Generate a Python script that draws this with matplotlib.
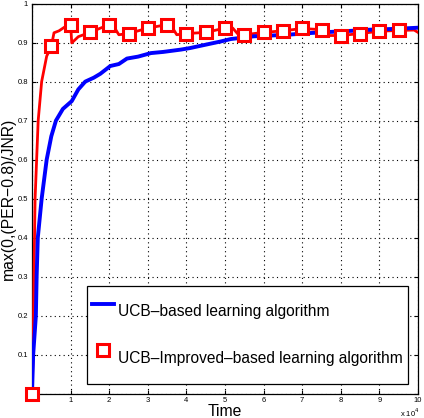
import matplotlib
matplotlib.use("Agg")
import matplotlib.pyplot as plt
from matplotlib.lines import Line2D

plt.rcParams['font.family'] = ['Liberation Sans', 'DejaVu Sans']

# Data (time in units of 10^4)
ucb_t = [0, 0.03, 0.1, 0.12, 0.15, 0.25, 0.38, 0.5, 0.62, 0.8, 1.03, 1.2, 1.38, 1.6, 1.77,
         2.03, 2.25, 2.46, 2.75, 3.08, 3.4, 3.86, 4.1, 4.38, 4.9, 5.15, 5.75, 6.2, 6.63,
         7.0, 7.47, 8.1, 8.77, 9.4, 10.0]
ucb_v = [0, 0.1, 0.2, 0.3, 0.4, 0.5, 0.6, 0.66, 0.7, 0.73, 0.75, 0.78, 0.8, 0.81, 0.82,
         0.84, 0.845, 0.859, 0.864, 0.873, 0.876, 0.882, 0.886, 0.892, 0.903, 0.909, 0.916,
         0.918, 0.92, 0.923, 0.926, 0.929, 0.933, 0.935, 0.938]

imp_t = [0, 0.03, 0.05, 0.08, 0.16, 0.25, 0.38, 0.5, 0.57, 0.7, 0.85, 1.0, 1.03, 1.2, 1.5,
         2.0, 2.1, 2.25, 2.5, 3.0, 3.5, 3.6, 3.75, 4.0, 4.5, 5.0, 5.2, 5.35, 5.5, 6.0, 6.5,
         7.0, 7.5, 7.7, 8.0, 8.5, 9.0, 9.5, 9.9, 10.0]
imp_v = [0, 0.1, 0.3, 0.5, 0.7, 0.8, 0.865, 0.89, 0.925, 0.93, 0.94, 0.946, 0.899, 0.915, 0.926,
         0.946, 0.944, 0.92, 0.923, 0.937, 0.946, 0.944, 0.92, 0.923, 0.926, 0.937, 0.937, 0.92,
         0.92, 0.926, 0.93, 0.936, 0.933, 0.918, 0.918, 0.923, 0.929, 0.931, 0.932, 0.926]

mark_t = [0, 0.5, 1.0, 1.5, 2.0, 2.5, 3.0, 3.5, 4.0, 4.5, 5.0, 5.5, 6.0, 6.5, 7.0, 7.5,
          8.0, 8.5, 9.0, 9.5]
mark_v = [0, 0.89, 0.946, 0.926, 0.946, 0.923, 0.937, 0.946, 0.923, 0.926, 0.937, 0.92,
          0.926, 0.93, 0.936, 0.933, 0.918, 0.923, 0.929, 0.931]

x_ticks = list(range(0, 11))
y_ticks = [0, 0.1, 0.2, 0.3, 0.4, 0.5, 0.6, 0.7, 0.8, 0.9, 1]
y_ticklabels = ['', '0.1', '0.2', '0.3', '0.4', '0.5', '0.6', '0.7', '0.8', '0.9', '1']

label_ucb = 'UCB\u2013based learning algorithm'
label_imp = 'UCB\u2013Improved\u2013based learning algorithm'

fig = plt.figure(figsize=(4.24, 4.18), dpi=100)
ax = fig.add_axes([32/424, (418-394)/418, (418-32)/424, (394-3.5)/418])

blue = '#0000ff'
red = '#ff0000'

ax.plot(imp_t, imp_v, color=red, lw=2.0, zorder=3)
ax.plot(ucb_t, ucb_v, color=blue, lw=2.8, zorder=4)
ax.plot(mark_t, mark_v, linestyle='none', marker='s', markersize=8.2,
        markeredgewidth=2.2, markeredgecolor=red, markerfacecolor='white',
        zorder=5, clip_on=False)

ax.set_xlim(0, 10)
ax.set_ylim(0, 1)
ax.set_xticks(x_ticks)
ax.set_xticklabels([str(v) for v in x_ticks])
ax.set_yticks(y_ticks)
ax.set_yticklabels(y_ticklabels)
ax.tick_params(direction='in', length=3, width=0.8, labelsize=5.5, top=True, right=True,
               pad=3)
ax.tick_params(axis='x', pad=2.2)
ax.grid(True, color='black', linestyle=(0, (1, 3)), linewidth=0.8)
for s in ax.spines.values():
    s.set_linewidth(0.9)

ax.set_xlabel('Time', fontsize=11.3)
ax.xaxis.set_label_coords(0.5, -(416-394)/390.5)
ax.xaxis.label.set_va('baseline')
ax.set_ylabel('max(0,(PER\u22120.8)/JNR)', fontsize=11.3)
ax.yaxis.set_label_coords(-(32-16)/386, 0.5)

fig.text(400/424, 1 - 413/418, r'x 10$^4$', fontsize=5.5, ha='left', va='center')

h1 = Line2D([], [], color=blue, lw=2.8)
h2 = Line2D([], [], linestyle='none', marker='s', markersize=8.2, markeredgewidth=2.2,
            markeredgecolor=red, markerfacecolor='white')
leg = ax.legend([h1, h2], [label_ucb, label_imp], loc='upper left',
                bbox_to_anchor=((86.7-32)/386, (394-286)/390.5),
                fontsize=11.2, frameon=True, fancybox=False, edgecolor='black',
                framealpha=1, borderpad=0.33, handleheight=3.68, labelspacing=0.36,
                handlelength=1.45, handletextpad=0.25, borderaxespad=0)
leg.get_frame().set_linewidth(0.9)

fig.savefig('out.png', dpi=100)
